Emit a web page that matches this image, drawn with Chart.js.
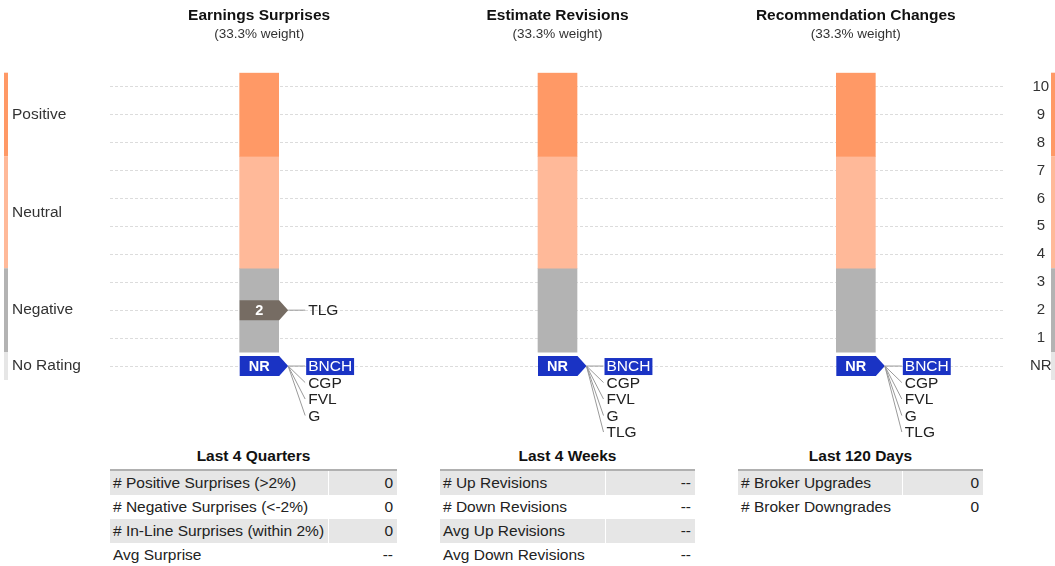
<!DOCTYPE html>
<html>
<head>
<meta charset="utf-8">
<script src="https://cdn.jsdelivr.net/npm/chart.js@4"></script>
<style>
  body { margin: 0; background: #fff; font-family: "Liberation Sans", Arial, sans-serif; }
  #wrap { position: relative; width: 1055px; height: 566px; }
  #scoreChart { position: absolute; left: 0; top: 0; }
  .tbl { position: absolute; top: 446px; }
  .tbl h4 { margin: 0 0 5px 0; font-size: 15.5px; text-align: center; color: #111; height: 18px; line-height: 20px; }
  .tbl table { border-collapse: collapse; width: 100%; border-top: 2px solid #b0b0b0; font-size: 15.5px; color: #222; }
  .tbl td { height: 24px; padding: 0 4px 0 3px; white-space: nowrap; }
  .tbl td.v { text-align: right; border-left: 1px solid #fff; }
  .tbl tr:nth-child(odd) td { background: #e6e6e6; }
</style>
</head>
<body>
<div id="wrap">
  <canvas id="scoreChart" width="1055" height="440"></canvas>
</div>
<script>
// Columnas del gráfico
const columnTitles = ['Earnings Surprises', 'Estimate Revisions', 'Recommendation Changes'];
const columnWeights = ['(33.3% weight)', '(33.3% weight)', '(33.3% weight)'];

// Bandas de puntuación (rango en el eje)
const positiveBand = [7.5, 10.5];
const neutralBand = [3.5, 7.5];
const negativeBand = [0.5, 3.5];
const noRatingBand = [-0.5, 0.5];

// Puntuación de cada columna (0 = NR)
const scores = [2, 0, 0];
const scoreTickers = [['TLG'], [], []];
const nrTickers = [['BNCH', 'CGP', 'FVL', 'G'], ['BNCH', 'CGP', 'FVL', 'G', 'TLG'], ['BNCH', 'CGP', 'FVL', 'G', 'TLG']];
const highlightTicker = 'BNCH';

// Eje Y
const yTickValues = [0, 1, 2, 3, 4, 5, 6, 7, 8, 9, 10];
const yTickLabels = ['NR', '1', '2', '3', '4', '5', '6', '7', '8', '9', '10'];
const sideLabels = ['Positive', 'Neutral', 'Negative', 'No Rating'];
const sideLabelValues = [9, 5.5, 2, 0];

// Tablas
const tableTitles = ['Last 4 Quarters', 'Last 4 Weeks', 'Last 120 Days'];
const tableRows = [
  ['# Positive Surprises (>2%)', '# Negative Surprises (<-2%)', '# In-Line Surprises (within 2%)', 'Avg Surprise'],
  ['# Up Revisions', '# Down Revisions', 'Avg Up Revisions', 'Avg Down Revisions'],
  ['# Broker Upgrades', '# Broker Downgrades']
];
const tableValues = [
  ['0', '0', '0', '--'],
  ['--', '--', '--', '--'],
  ['0', '0']
];

const colorPos = '#ff9966';
const colorNeu = '#ffb999';
const colorNeg = '#b3b3b3';
const colorNR = '#e6e6e6';
const FONT = '"Liberation Sans", Arial, sans-serif';

// Tiras de color laterales, etiquetas, títulos y marcadores
const overlayPlugin = {
  id: 'overlay',
  beforeDatasetsDraw(chart) {
    const ctx = chart.ctx;
    const y = chart.scales.y;
    const bands = [[positiveBand, colorPos], [neutralBand, colorNeu], [negativeBand, colorNeg], [noRatingBand, colorNR]];
    bands.forEach(([b, c]) => {
      const top = y.getPixelForValue(b[1]);
      const bot = y.getPixelForValue(b[0]);
      ctx.fillStyle = c;
      ctx.fillRect(4, top, 4, bot - top);
      ctx.fillRect(1051, top, 4, bot - top);
    });
    ctx.save();
    ctx.font = '15.5px ' + FONT;
    ctx.fillStyle = '#333';
    ctx.textBaseline = 'middle';
    ctx.textAlign = 'left';
    sideLabels.forEach((t, i) => ctx.fillText(t, 12, y.getPixelForValue(sideLabelValues[i])));
    ctx.restore();
  },
  afterDatasetsDraw(chart) {
    const ctx = chart.ctx;
    const x = chart.scales.x;
    const y = chart.scales.y;
    ctx.save();
    ctx.textAlign = 'center';
    ctx.textBaseline = 'middle';
    columnTitles.forEach((t, i) => {
      const cx = x.getPixelForValue(i);
      ctx.fillStyle = '#111';
      ctx.font = 'bold 15.5px ' + FONT;
      ctx.fillText(t, cx, 16);
      ctx.fillStyle = '#333';
      ctx.font = '13.5px ' + FONT;
      ctx.fillText(columnWeights[i], cx, 34);
    });

    function marker(cx, cy, text, fill) {
      const l = cx - 19.5, r = cx + 20, tip = cx + 29;
      ctx.fillStyle = fill;
      ctx.beginPath();
      ctx.moveTo(l, cy - 10);
      ctx.lineTo(r, cy - 10);
      ctx.lineTo(tip, cy);
      ctx.lineTo(r, cy + 10);
      ctx.lineTo(l, cy + 10);
      ctx.closePath();
      ctx.fill();
      ctx.fillStyle = '#fff';
      ctx.font = 'bold 14.5px ' + FONT;
      ctx.textAlign = 'center';
      ctx.fillText(text, cx, cy + 1);
      return tip;
    }
    function tickers(tipX, cy, list) {
      ctx.font = '15.5px ' + FONT;
      ctx.textAlign = 'left';
      list.forEach((t, k) => {
        const ly = cy + k * 16.5;
        ctx.strokeStyle = '#9a9a9a';
        ctx.lineWidth = 1;
        ctx.beginPath();
        ctx.moveTo(tipX, cy);
        ctx.lineTo(tipX + 17, ly);
        ctx.stroke();
        const w = ctx.measureText(t).width;
        if (t === highlightTicker) {
          ctx.fillStyle = '#1a33c4';
          ctx.fillRect(tipX + 18, ly - 8, w + 4, 17);
          ctx.fillStyle = '#fff';
        } else {
          ctx.fillStyle = '#222';
        }
        ctx.fillText(t, tipX + 20, ly + 1);
      });
    }
    scores.forEach((s, i) => {
      const cx = x.getPixelForValue(i);
      if (s > 0) {
        const tip = marker(cx, y.getPixelForValue(s), String(s), '#766c63');
        tickers(tip, y.getPixelForValue(s), scoreTickers[i]);
      }
      const tipNR = marker(cx, y.getPixelForValue(0), 'NR', '#1a33c4');
      tickers(tipNR, y.getPixelForValue(0), nrTickers[i]);
    });
    ctx.restore();
  }
};

const ctx = document.getElementById('scoreChart');
new Chart(ctx, {
  type: 'bar',
  data: {
    labels: columnTitles,
    datasets: [
      { data: columnTitles.map(() => positiveBand), backgroundColor: colorPos },
      { data: columnTitles.map(() => neutralBand), backgroundColor: colorNeu },
      { data: columnTitles.map(() => negativeBand), backgroundColor: colorNeg }
    ]
  },
  options: {
    responsive: false,
    animation: false,
    events: [],
    datasets: { bar: { grouped: false, barThickness: 39, borderSkipped: false } },
    layout: { padding: { left: 110, right: 0, top: 72.7, bottom: 60 } },
    plugins: { legend: { display: false }, tooltip: { enabled: false } },
    scales: {
      x: { display: false },
      y: {
        position: 'right',
        min: -0.5,
        max: 10.5,
        afterBuildTicks(scale) { scale.ticks = yTickValues.map(v => ({ value: v })); },
        afterFit(scale) { scale.width = 50; },
        grid: { color: '#dcdcdc', drawTicks: false },
        border: { display: false, dash: [3, 2] },
        ticks: {
          crossAlign: 'center',
          padding: 25,
          color: '#333',
          font: { size: 15, family: FONT },
          callback: (v) => yTickLabels[yTickValues.indexOf(v)]
        }
      }
    }
  },
  plugins: [overlayPlugin]
});

// Tablas inferiores
const tableBoxes = [[110, 287], [440, 255], [738, 245]];
const valueWidths = [67, 87, 78];
tableTitles.forEach((t, i) => {
  const div = document.createElement('div');
  div.className = 'tbl';
  div.style.left = tableBoxes[i][0] + 'px';
  div.style.width = tableBoxes[i][1] + 'px';
  let html = '<h4>' + t + '</h4><table>';
  tableRows[i].forEach((r, k) => {
    html += '<tr><td>' + r.replace('<', '&lt;').replace('>', '&gt;') + '</td><td class="v" style="width:' + (valueWidths[i] - 5) + 'px">' + tableValues[i][k] + '</td></tr>';
  });
  html += '</table>';
  div.innerHTML = html;
  document.getElementById('wrap').appendChild(div);
});
</script>
</body>
</html>
